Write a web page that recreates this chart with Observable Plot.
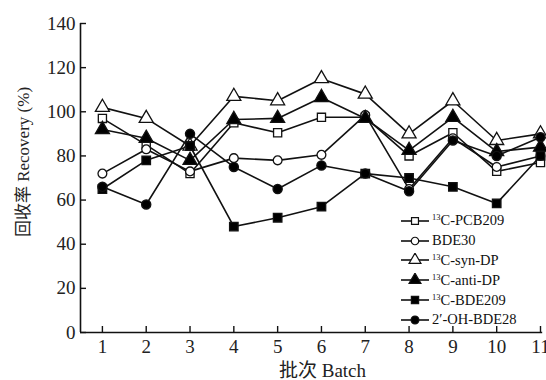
<!DOCTYPE html>
<html>
<head>
<meta charset="utf-8">
<script src="https://cdn.jsdelivr.net/npm/d3@7"></script>
<script src="https://cdn.jsdelivr.net/npm/@observablehq/plot@0.6"></script>
<style>
  html, body { margin: 0; padding: 0; background: #fff; }
  #wrap { position: relative; width: 546px; height: 380px; font-family: "Liberation Serif", "Noto Sans CJK SC", serif; }
  #legend { position: absolute; left: 400px; top: 211px; font-size: 14.5px; color: #111; }
  .row { display: flex; align-items: center; height: 19.8px; }
  .row svg { display: block; margin-right: 2px; }
  sup { font-size: 8.5px; vertical-align: 5px; line-height: 0; }
</style>
</head>
<body>
<div id="wrap"></div>
<script>
// ---- data ----
const batches = [1, 2, 3, 4, 5, 6, 7, 8, 9, 10, 11];
const pcb209   = [97, 85, 72, 95, 90.5, 97.5, 97.5, 80, 90.5, 73, 77];
const bde30    = [72, 83, 73, 79, 78, 80.5, 98.5, 65, 88, 75, 80];
const synDP    = [102, 97, 84.5, 107, 105, 115, 108, 90, 105, 87, 90];
const antiDP   = [92, 88, 78, 96.5, 97, 106.5, 97, 82.5, 97.5, 82, 84];
const bde209   = [65, 78, 84.5, 48, 52, 57, 72, 70, 66, 58.5, 80];
const ohBde28  = [66, 58, 90, 75, 65, 75.7, 72, 64, 87, 80, 88.5];
const yTicks = [0, 20, 40, 60, 80, 100, 120, 140];
const xTicks = batches;
const xLabel = "批次 Batch";
const yLabel = "回收率 Recovery (%)";

const series = [
  {name: "13C-PCB209", sup: "13", text: "C-PCB209", values: pcb209, symbol: "square", fill: "white", r: 4.6},
  {name: "BDE30", sup: "", text: "BDE30", values: bde30, symbol: "circle", fill: "white", r: 4.4},
  {name: "13C-syn-DP", sup: "13", text: "C-syn-DP", values: synDP, symbol: "triangle", fill: "white", r: 5.2},
  {name: "13C-anti-DP", sup: "13", text: "C-anti-DP", values: antiDP, symbol: "triangle", fill: "black", r: 5.2},
  {name: "13C-BDE209", sup: "13", text: "C-BDE209", values: bde209, symbol: "square", fill: "black", r: 4.8},
  {name: "2'-OH-BDE28", sup: "", text: "2\u2032-OH-BDE28", values: ohBde28, symbol: "circle", fill: "black", r: 4.6}
];

const rows = series.map(s => s.values.map((v, i) => ({series: s.name, x: batches[i], y: v})));

const marks = [];
series.forEach((s, k) => {
  marks.push(Plot.line(rows[k], {x: "x", y: "y", stroke: "#111", strokeWidth: 1.6}));
});
series.forEach((s, k) => {
  marks.push(Plot.dot(rows[k], {x: "x", y: "y", symbol: () => s.symbol, r: s.r, fill: s.fill, stroke: "#111", strokeWidth: 1.3}));
});
marks.push(Plot.ruleX([0.5], {y1: 0, y2: 140, stroke: "#111", strokeWidth: 1.6}));
marks.push(Plot.ruleY([0], {x1: 0.5, x2: 11.05, stroke: "#111", strokeWidth: 1.6}));
marks.push(Plot.axisY(yTicks, {anchor: "left", tickSize: -6, tickPadding: 11, fontSize: 19, label: null, stroke: "#111", strokeWidth: 1.4, fill: "#222"}));
marks.push(Plot.axisX(xTicks, {anchor: "bottom", tickSize: -6, tickPadding: 13, fontSize: 19, label: null, stroke: "#111", strokeWidth: 1.4, fill: "#222"}));
marks.push(Plot.text([yLabel], {frameAnchor: "left", textAnchor: "middle", dx: -57, dy: -16, rotate: -90, fontSize: 17, fill: "#222"}));
marks.push(Plot.text([xLabel], {frameAnchor: "bottom", textAnchor: "middle", lineAnchor: "middle", dy: 38, dx: 12, fontSize: 19, fill: "#222"}));

const chart = Plot.plot({
  width: 546,
  height: 380,
  marginLeft: 80,
  marginRight: 6,
  marginTop: 23,
  marginBottom: 48,
  x: {domain: [0.5, 11], axis: null},
  y: {domain: [0, 140], axis: null},
  style: {fontFamily: "'Liberation Serif', 'Noto Sans CJK SC', serif", background: "white", color: "#222"},
  marks
});

const wrap = document.getElementById("wrap");
wrap.appendChild(chart);

// legend
const legend = document.createElement("div");
legend.id = "legend";
const symMap = {square: d3.symbolSquare, circle: d3.symbolCircle, triangle: d3.symbolTriangle};
series.forEach(s => {
  const row = document.createElement("div");
  row.className = "row";
  const svg = d3.create("svg").attr("width", 30).attr("height", 14);
  svg.append("line").attr("x1", 1).attr("x2", 29).attr("y1", 7).attr("y2", 7).attr("stroke", "#111").attr("stroke-width", 1.6);
  svg.append("path")
    .attr("transform", "translate(15,7)")
    .attr("d", d3.symbol(symMap[s.symbol], Math.PI * (s.r * 0.85) ** 2)())
    .attr("fill", s.fill).attr("stroke", "#111").attr("stroke-width", 1.2);
  row.appendChild(svg.node());
  const label = document.createElement("span");
  label.innerHTML = (s.sup ? "<sup>" + s.sup + "</sup>" : "") + s.text;
  row.appendChild(label);
  legend.appendChild(row);
});
wrap.appendChild(legend);
</script>
</body>
</html>
